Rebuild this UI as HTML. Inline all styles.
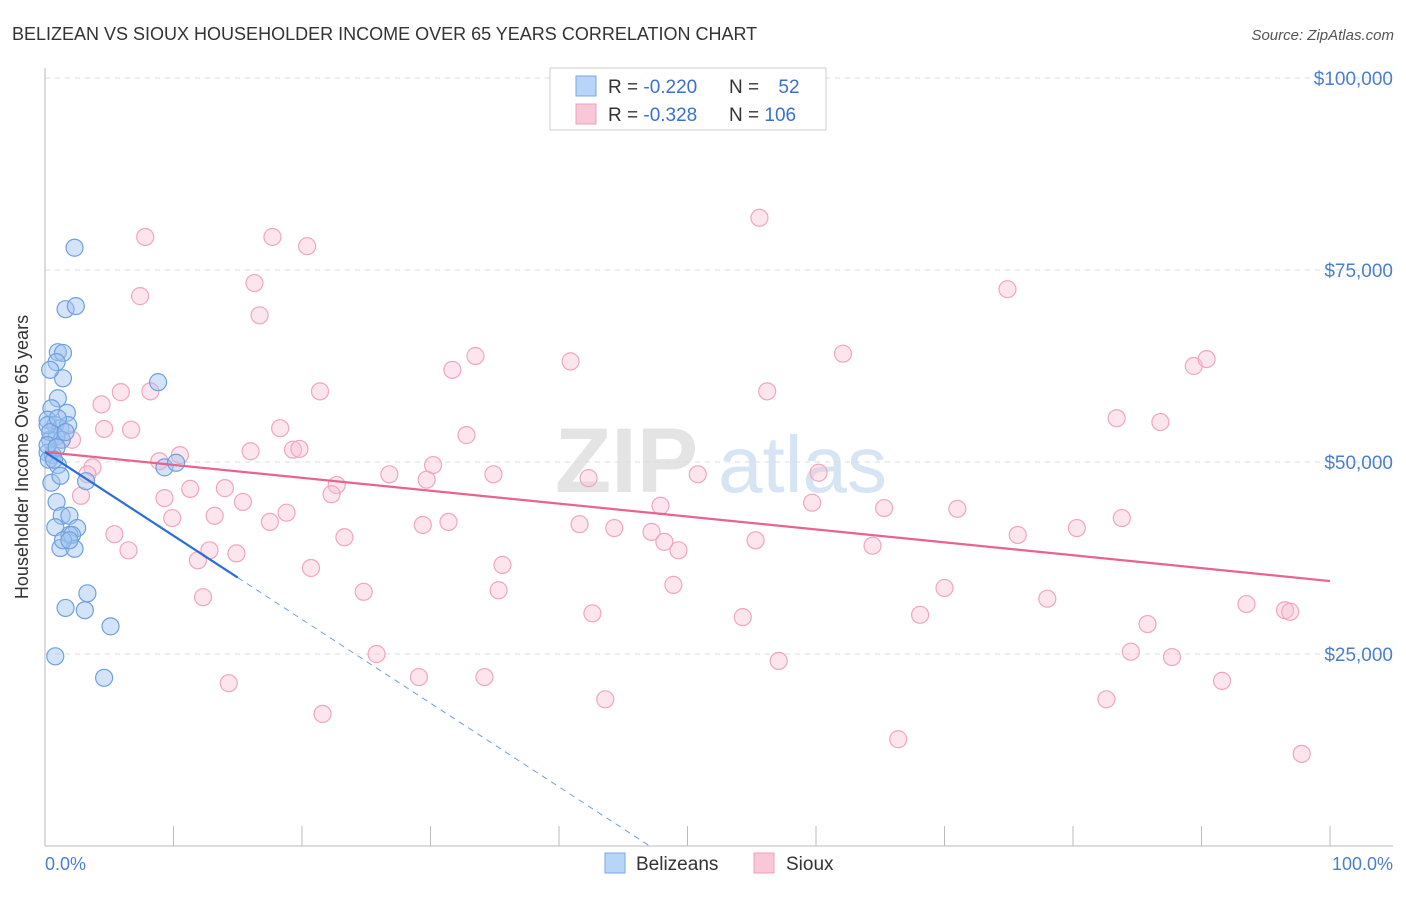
<!DOCTYPE html>
<html><head><meta charset="utf-8"><style>
body{margin:0;background:#fff;font-family:"Liberation Sans",sans-serif;}
svg text{font-family:"Liberation Sans",sans-serif;}
</style></head><body>
<svg id="chart" width="1406" height="892" xmlns="http://www.w3.org/2000/svg">
<text x="12" y="40" font-size="18" fill="#333">BELIZEAN VS SIOUX HOUSEHOLDER INCOME OVER 65 YEARS CORRELATION CHART</text>
<text x="1394" y="40" font-size="15" fill="#555" text-anchor="end" font-style="italic">Source: ZipAtlas.com</text>
<g>
<text x="555" y="492" font-size="92" fill="#e4e4e4" font-family="Liberation Serif" font-weight="bold">ZIP</text>
<text x="718" y="492" font-size="80" fill="#d6e4f4">atlas</text>
</g>
<g id="grid"></g>
<g id="yticks"></g>
<g id="xticks"></g>
<line x1="45" y1="68" x2="45" y2="846" stroke="#bbb"/>
<line x1="45" y1="846" x2="1393" y2="846" stroke="#bbb"/>
<text x="28" y="457" font-size="18" fill="#333" text-anchor="middle" transform="rotate(-90 28 457)">Householder Income Over 65 years</text>
<text x="45" y="870" font-size="18" fill="#4a7fd0">0.0%</text>
<text x="1393" y="870" font-size="18" fill="#4a7fd0" text-anchor="end">100.0%</text>
<g id="pinkpts"></g>
<g id="bluepts"></g>
<g id="trends"></g>
<g>
<rect x="550" y="68" width="276" height="62" fill="#fff" stroke="#ccc"/>
<rect x="576" y="76" width="20" height="20" fill="#b8d4f6" stroke="#7aa8e6"/>
<rect x="576" y="104" width="20" height="20" fill="#f9c8d8" stroke="#f0a0b8"/>
<text x="608" y="93" font-size="19" fill="#333">R = <tspan fill="#3a70d0">-0.220</tspan></text>
<text x="729" y="93" font-size="19" fill="#333">N = <tspan fill="#3a70d0" dx="14">52</tspan></text>
<text x="608" y="121" font-size="19" fill="#333">R = <tspan fill="#3a70d0">-0.328</tspan></text>
<text x="729" y="121" font-size="19" fill="#333">N = <tspan fill="#3a70d0">106</tspan></text>
</g>
<g>
<rect x="605" y="853" width="20" height="20" fill="#b8d4f6" stroke="#7aa8e6"/>
<text x="636" y="870" font-size="19" fill="#333">Belizeans</text>
<rect x="754" y="853" width="20" height="20" fill="#f9c8d8" stroke="#f0a0b8"/>
<text x="786" y="870" font-size="19" fill="#333">Sioux</text>
</g>
</svg>
<script>
const yTicks=[25000,50000,75000,100000];
const yTickLabels=["$25,000","$50,000","$75,000","$100,000"];
const xTicks=[0,10,20,30,40,50,60,70,80,90,100];
const blueX=[2.3,1.6,2.4,1.0,1.4,0.9,1.4,0.4,8.8,1.0,0.5,1.7,0.2,0.8,1.2,1.8,0.4,0.9,1.3,0.2,0.6,1.0,0.3,0.5,1.2,3.2,0.9,9.3,10.2,1.3,1.9,2.5,0.8,1.9,2.1,1.2,2.3,3.3,1.6,3.1,0.8,5.1,4.6,0.2,0.4,0.2,0.9,1.4,1.9,0.7,1.0,1.6];
const blueY=[77.9,69.9,70.3,64.3,64.2,63.0,60.9,62.0,60.4,58.3,57.0,56.4,55.5,54.8,54.4,54.8,52.9,53.3,52.9,51.2,50.9,49.6,50.3,47.3,48.2,47.5,44.8,49.3,49.9,43.0,43.0,41.4,41.5,40.5,40.5,38.8,38.7,32.9,31.0,30.7,24.7,28.6,21.9,54.8,53.9,52.2,51.9,39.8,39.8,50.3,55.7,53.9];
const pinkX=[7.8,17.7,20.4,55.6,7.4,16.3,16.7,74.9,33.5,31.7,40.9,62.1,89.4,90.4,21.4,56.2,8.2,5.9,4.4,18.3,83.4,86.8,4.6,6.7,32.8,16.0,19.3,19.8,10.5,8.9,1.3,2.1,3.7,3.3,30.2,26.8,29.7,34.9,42.3,50.8,60.2,22.7,22.3,11.3,14.0,9.3,15.4,59.7,65.3,71.0,47.9,2.8,5.4,6.5,9.9,13.2,17.5,18.8,23.3,29.4,31.4,41.6,44.3,47.2,48.2,49.3,55.3,64.4,75.7,80.3,83.8,11.9,12.8,14.9,20.7,35.6,24.8,35.3,48.9,42.6,54.3,68.1,70.0,78.0,85.8,93.5,96.5,96.9,12.3,25.8,29.1,34.2,14.3,21.6,43.6,57.1,84.5,87.7,91.6,82.6,66.4,97.8];
const pinkY=[79.3,79.3,78.1,81.8,71.6,73.3,69.1,72.5,63.8,62.0,63.1,64.1,62.5,63.4,59.2,59.2,59.2,59.1,57.5,54.4,55.7,55.2,54.3,54.2,53.5,51.4,51.6,51.7,50.9,50.1,52.9,52.9,49.3,48.4,49.6,48.4,47.7,48.4,47.9,48.4,48.6,47.0,45.8,46.5,46.6,45.3,44.8,44.7,44.0,43.9,44.3,45.6,40.6,38.5,42.7,43.0,42.2,43.4,40.2,41.8,42.2,41.9,41.4,40.9,39.6,38.5,39.8,39.1,40.5,41.4,42.7,37.2,38.5,38.1,36.2,36.6,33.1,33.3,34.0,30.3,29.8,30.1,33.6,32.2,28.9,31.5,30.7,30.5,32.4,25.0,22.0,22.0,21.2,17.2,19.1,24.1,25.3,24.6,21.5,19.1,13.9,12.0];
const blueTrend=[51.3,-1.09];   // intercept (k$), slope per %
const blueSolidEnd=15;
const pinkTrend=[51.3,-0.168];
const NS="http://www.w3.org/2000/svg";
function sx(v){return 45+v*12.85;}
function sy(v){return 846-v/25000*192;}
function el(t,a,p){const e=document.createElementNS(NS,t);for(const k in a)e.setAttribute(k,a[k]);p.appendChild(e);return e;}
const grid=document.getElementById('grid'),yt=document.getElementById('yticks'),xt=document.getElementById('xticks');
yTicks.forEach((v,i)=>{
 const l=el('line',{x1:45,x2:1393,y1:sy(v),y2:sy(v),stroke:'#ddd','stroke-dasharray':'5,5'},grid);
 
 
 const t=el('text',{x:1393,y:sy(v)+7,'font-size':19,fill:'#4a7fd0','text-anchor':'end'},yt);
 t.textContent=yTickLabels[i];
 
 
});
xTicks.forEach(v=>{
 const l=el('line',{x1:sx(v),x2:sx(v),y1:826,y2:846,stroke:'#bbb'},xt);
 
 
});
const pp=document.getElementById('pinkpts');
pinkX.forEach((x,i)=>{
 const c=el('circle',{cx:sx(x),cy:sy(pinkY[i]*1000),r:8.5,fill:'rgba(248,190,210,0.4)',stroke:'#f0a6be','stroke-width':1.2},pp);
 
 
});
const bp=document.getElementById('bluepts');
blueX.forEach((x,i)=>{
 const c=el('circle',{cx:sx(x),cy:sy(blueY[i]*1000),r:8.5,fill:'rgba(160,196,240,0.45)',stroke:'#6fa0e0','stroke-width':1.2},bp);
 
 
});
const tr=document.getElementById('trends');
function ty(t,x){return sy((t[0]+t[1]*x)*1000);}
const pl=el('line',{x1:sx(0),y1:ty(pinkTrend,0),x2:sx(100),y2:ty(pinkTrend,100),stroke:'#e8638f','stroke-width':2.2},tr);


const bl=el('line',{x1:sx(0),y1:ty(blueTrend,0),x2:sx(blueSolidEnd),y2:ty(blueTrend,blueSolidEnd),stroke:'#2a6fd6','stroke-width':2.2},tr);


const xz=-blueTrend[0]/blueTrend[1];
const bd=el('line',{x1:sx(blueSolidEnd),y1:ty(blueTrend,blueSolidEnd),x2:sx(xz),y2:ty(blueTrend,xz),stroke:'#6f9fe0','stroke-width':1,'stroke-dasharray':'6,5'},tr);


</script>
</body></html>
